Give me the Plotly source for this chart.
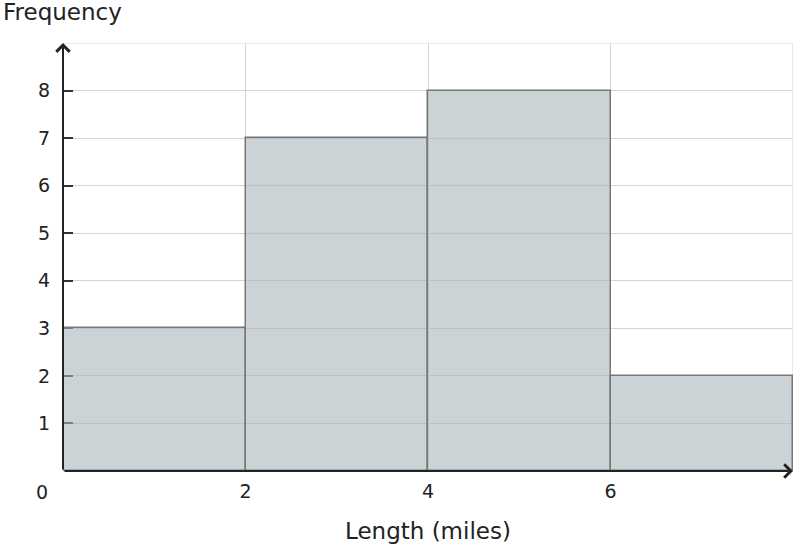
import plotly.graph_objects as go

bin_starts = [0, 2, 4, 6]
bin_width = 2
frequencies = [3, 7, 8, 2]
x_ticks = [2, 4, 6]
y_ticks = [1, 2, 3, 4, 5, 6, 7, 8]
x_max = 8
y_max = 9

centers = [s + bin_width / 2 for s in bin_starts]

fig = go.Figure()
fig.add_trace(go.Bar(
    x=centers, y=frequencies, width=[bin_width] * len(centers),
    marker=dict(color="rgba(170,181,186,0.6)", line=dict(color="#777777", width=1.5)),
    hoverinfo="skip",
))

font = "DejaVu Sans, sans-serif"
W, H = 796, 548
ml, mr, mt, mb = 63, 3, 43, 77
fig.update_layout(
    width=W, height=H,
    margin=dict(l=ml, r=mr, t=mt, b=mb),
    plot_bgcolor="white", paper_bgcolor="white",
    showlegend=False, bargap=0,
    font=dict(family=font, color="#222222", size=19),
    xaxis=dict(range=[0, x_max], tickvals=x_ticks, ticktext=[str(v) for v in x_ticks],
               showgrid=True, gridcolor="#d4d4d4", gridwidth=1, zeroline=False,
               showline=False, ticks="", ticklabelstandoff=7),
    yaxis=dict(range=[0, y_max], tickvals=y_ticks, ticktext=[str(v) for v in y_ticks],
               showgrid=True, gridcolor="#d4d4d4", gridwidth=1, zeroline=False,
               showline=False, layer="below traces",
               ticks="inside", ticklen=10, tickwidth=2, tickcolor="#333333",
               ticklabelstandoff=12),
)

# top and right border grid lines
fig.add_shape(type="line", xref="x", yref="y", x0=0, x1=x_max, y0=y_max, y1=y_max,
              line=dict(color="#d4d4d4", width=1), layer="below")
fig.add_shape(type="line", xref="x", yref="y", x0=x_max, x1=x_max, y0=0, y1=y_max,
              line=dict(color="#d4d4d4", width=1), layer="below")

plot_w = W - ml - mr
plot_h = H - mt - mb
# axis lines with arrows
fig.add_annotation(x=0, y=y_max, xref="x", yref="y", ax=0, ay=plot_h, axref="pixel", ayref="pixel",
                   showarrow=True, arrowhead=4, arrowsize=1.3, arrowwidth=2, arrowcolor="#222222",
                   text="", standoff=0)
fig.add_annotation(x=x_max, y=0, xref="x", yref="y", ax=-plot_w, ay=0, axref="pixel", ayref="pixel",
                   showarrow=True, arrowhead=4, arrowsize=1.3, arrowwidth=2, arrowcolor="#222222",
                   text="", standoff=0)

# origin label
fig.add_annotation(x=0, y=0, xref="x", yref="y", text="0", showarrow=False,
                   xshift=-21, yshift=-21, font=dict(size=19, family=font, color="#222222"))

# axis titles
fig.add_annotation(x=0, y=1, xref="paper", yref="paper", text="Frequency", showarrow=False,
                   xanchor="left", yanchor="middle", xshift=-62, yshift=31,
                   font=dict(size=23, family=font, color="#222222"))
fig.add_annotation(x=0.5, y=0, xref="paper", yref="paper", text="Length (miles)", showarrow=False,
                   xanchor="center", yanchor="middle", yshift=-60,
                   font=dict(size=23, family=font, color="#222222"))

fig.write_html("out.html", config={"displayModeBar": False},
               post_script="document.body.style.margin='0px';")
